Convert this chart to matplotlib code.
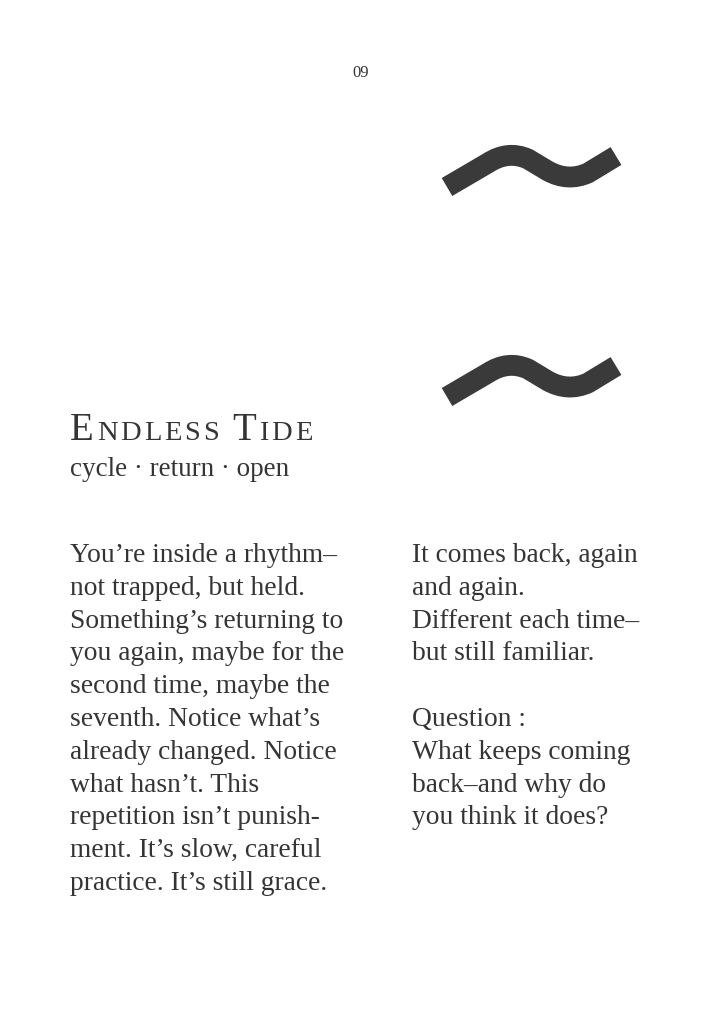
import matplotlib.pyplot as plt
from matplotlib.path import Path
from matplotlib.patches import PathPatch

# Page content
page_number = '09'
title_big = ['E', 'T']
title_small = ['NDLESS ', 'IDE']
subtitle = 'cycle · return · open'
left_lines = [
    'You’re inside a rhythm–',
    'not trapped, but held.',
    'Something’s returning to',
    'you again, maybe for the',
    'second time, maybe the',
    'seventh. Notice what’s',
    'already changed. Notice',
    'what hasn’t. This',
    'repetition isn’t punish-',
    'ment. It’s slow, careful',
    'practice. It’s still grace.',
]
right_lines = [
    'It comes back, again',
    'and again.',
    'Different each time–',
    'but still familiar.',
    '',
    'Question :',
    'What keeps coming',
    'back–and why do',
    'you think it does?',
]

# wave glyph outline (page pixels), drawn twice
wave_x = [447, 488, 508, 528, 548, 568, 588, 616]
wave_y = [187, 163, 150, 159, 171, 182, 173, 156]
wave_offsets = [0, 210]

ink = '#353535'
serif = ['Liberation Serif', 'DejaVu Serif']

fig = plt.figure(figsize=(7.18, 10.24), dpi=100)
ax = fig.add_axes([0, 0, 1, 1])
ax.set_xlim(0, 718)
ax.set_ylim(1024, 0)
ax.axis('off')

codes = [Path.MOVETO, Path.LINETO, Path.CURVE3, Path.CURVE3,
         Path.LINETO, Path.CURVE3, Path.CURVE3, Path.LINETO]
for off in wave_offsets:
    verts = list(zip(wave_x, [y + off for y in wave_y]))
    ax.add_patch(PathPatch(Path(verts, codes), fill=False, edgecolor='#3a3a3a',
                           lw=15, capstyle='butt', joinstyle='round'))

ax.text(361, 77, page_number, family=serif, fontsize=12, color=ink,
        ha='center', va='baseline')

# small-caps title built letter by letter, with some tracking
x = 70
renderer = fig.canvas.get_renderer()
for big, small in zip(title_big, title_small):
    for ch, size in [(big, 28)] + [(c, 20.5) for c in small]:
        t = ax.text(x, 440, ch, family=serif, fontsize=size, color=ink,
                    va='baseline', fontweight='medium')
        w = t.get_window_extent(renderer).width
        if ch == ' ':
            w = 8
        x += w + 2.9

ax.text(70, 476, subtitle, family=serif, fontsize=19.5, color=ink, va='baseline')

spacing = 32.8
for i, line in enumerate(left_lines):
    ax.text(70, 562 + i * spacing, line, family=serif, fontsize=19.8,
            color=ink, va='baseline')
for i, line in enumerate(right_lines):
    ax.text(412, 562 + i * spacing, line, family=serif, fontsize=19.8,
            color=ink, va='baseline')

fig.savefig('out.png', dpi=100, facecolor='white')
